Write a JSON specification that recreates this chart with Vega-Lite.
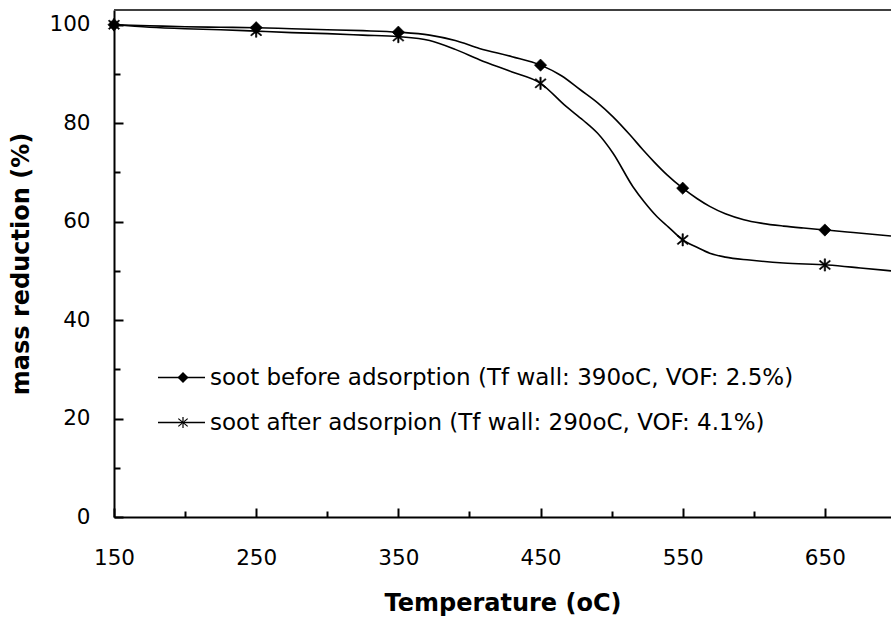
{
  "$schema": "https://vega.github.io/schema/vega-lite/v6.json",
  "width": 777,
  "height": 507,
  "autosize": {"type": "none"},
  "padding": {"left": 114, "top": 10, "right": 0, "bottom": 104},
  "background": "white",
  "config": {"view": {"stroke": null}, "font": "DejaVu Sans"},
  "datasets": {
    "curves": [
      {"series": "soot before adsorption (Tf wall: 390oC, VOF: 2.5%)", "T": 150, "m": 100.0},
      {"series": "soot before adsorption (Tf wall: 390oC, VOF: 2.5%)", "T": 175, "m": 99.8},
      {"series": "soot before adsorption (Tf wall: 390oC, VOF: 2.5%)", "T": 200, "m": 99.6},
      {"series": "soot before adsorption (Tf wall: 390oC, VOF: 2.5%)", "T": 225, "m": 99.5},
      {"series": "soot before adsorption (Tf wall: 390oC, VOF: 2.5%)", "T": 250, "m": 99.4},
      {"series": "soot before adsorption (Tf wall: 390oC, VOF: 2.5%)", "T": 275, "m": 99.2},
      {"series": "soot before adsorption (Tf wall: 390oC, VOF: 2.5%)", "T": 300, "m": 99.0},
      {"series": "soot before adsorption (Tf wall: 390oC, VOF: 2.5%)", "T": 325, "m": 98.8},
      {"series": "soot before adsorption (Tf wall: 390oC, VOF: 2.5%)", "T": 350, "m": 98.5},
      {"series": "soot before adsorption (Tf wall: 390oC, VOF: 2.5%)", "T": 372, "m": 97.9},
      {"series": "soot before adsorption (Tf wall: 390oC, VOF: 2.5%)", "T": 390, "m": 96.8},
      {"series": "soot before adsorption (Tf wall: 390oC, VOF: 2.5%)", "T": 407, "m": 95.2},
      {"series": "soot before adsorption (Tf wall: 390oC, VOF: 2.5%)", "T": 430, "m": 93.5},
      {"series": "soot before adsorption (Tf wall: 390oC, VOF: 2.5%)", "T": 450, "m": 91.8},
      {"series": "soot before adsorption (Tf wall: 390oC, VOF: 2.5%)", "T": 465, "m": 89.6},
      {"series": "soot before adsorption (Tf wall: 390oC, VOF: 2.5%)", "T": 478, "m": 86.8},
      {"series": "soot before adsorption (Tf wall: 390oC, VOF: 2.5%)", "T": 490, "m": 84.2},
      {"series": "soot before adsorption (Tf wall: 390oC, VOF: 2.5%)", "T": 501, "m": 81.3},
      {"series": "soot before adsorption (Tf wall: 390oC, VOF: 2.5%)", "T": 513, "m": 77.6},
      {"series": "soot before adsorption (Tf wall: 390oC, VOF: 2.5%)", "T": 522, "m": 74.6},
      {"series": "soot before adsorption (Tf wall: 390oC, VOF: 2.5%)", "T": 530, "m": 72.1},
      {"series": "soot before adsorption (Tf wall: 390oC, VOF: 2.5%)", "T": 539, "m": 69.5},
      {"series": "soot before adsorption (Tf wall: 390oC, VOF: 2.5%)", "T": 550, "m": 66.8},
      {"series": "soot before adsorption (Tf wall: 390oC, VOF: 2.5%)", "T": 560, "m": 64.7},
      {"series": "soot before adsorption (Tf wall: 390oC, VOF: 2.5%)", "T": 569, "m": 63.1},
      {"series": "soot before adsorption (Tf wall: 390oC, VOF: 2.5%)", "T": 580, "m": 61.6},
      {"series": "soot before adsorption (Tf wall: 390oC, VOF: 2.5%)", "T": 593, "m": 60.4},
      {"series": "soot before adsorption (Tf wall: 390oC, VOF: 2.5%)", "T": 605, "m": 59.7},
      {"series": "soot before adsorption (Tf wall: 390oC, VOF: 2.5%)", "T": 621, "m": 59.1},
      {"series": "soot before adsorption (Tf wall: 390oC, VOF: 2.5%)", "T": 635, "m": 58.7},
      {"series": "soot before adsorption (Tf wall: 390oC, VOF: 2.5%)", "T": 651, "m": 58.3},
      {"series": "soot before adsorption (Tf wall: 390oC, VOF: 2.5%)", "T": 670, "m": 57.8},
      {"series": "soot before adsorption (Tf wall: 390oC, VOF: 2.5%)", "T": 696.5, "m": 57.1},
      {"series": "soot after adsorpion (Tf wall: 290oC, VOF: 4.1%)", "T": 150, "m": 100.0},
      {"series": "soot after adsorpion (Tf wall: 290oC, VOF: 4.1%)", "T": 175, "m": 99.5},
      {"series": "soot after adsorpion (Tf wall: 290oC, VOF: 4.1%)", "T": 200, "m": 99.2},
      {"series": "soot after adsorpion (Tf wall: 290oC, VOF: 4.1%)", "T": 225, "m": 99.0},
      {"series": "soot after adsorpion (Tf wall: 290oC, VOF: 4.1%)", "T": 250, "m": 98.7},
      {"series": "soot after adsorpion (Tf wall: 290oC, VOF: 4.1%)", "T": 275, "m": 98.4},
      {"series": "soot after adsorpion (Tf wall: 290oC, VOF: 4.1%)", "T": 300, "m": 98.2},
      {"series": "soot after adsorpion (Tf wall: 290oC, VOF: 4.1%)", "T": 325, "m": 97.9},
      {"series": "soot after adsorpion (Tf wall: 290oC, VOF: 4.1%)", "T": 350, "m": 97.6},
      {"series": "soot after adsorpion (Tf wall: 290oC, VOF: 4.1%)", "T": 372, "m": 96.8},
      {"series": "soot after adsorpion (Tf wall: 290oC, VOF: 4.1%)", "T": 390, "m": 95.0},
      {"series": "soot after adsorpion (Tf wall: 290oC, VOF: 4.1%)", "T": 407, "m": 92.9},
      {"series": "soot after adsorpion (Tf wall: 290oC, VOF: 4.1%)", "T": 430, "m": 90.4},
      {"series": "soot after adsorpion (Tf wall: 290oC, VOF: 4.1%)", "T": 450, "m": 88.1},
      {"series": "soot after adsorpion (Tf wall: 290oC, VOF: 4.1%)", "T": 468, "m": 83.4},
      {"series": "soot after adsorpion (Tf wall: 290oC, VOF: 4.1%)", "T": 480, "m": 80.6},
      {"series": "soot after adsorpion (Tf wall: 290oC, VOF: 4.1%)", "T": 490, "m": 78.0},
      {"series": "soot after adsorpion (Tf wall: 290oC, VOF: 4.1%)", "T": 501, "m": 73.9},
      {"series": "soot after adsorpion (Tf wall: 290oC, VOF: 4.1%)", "T": 515, "m": 67.1},
      {"series": "soot after adsorpion (Tf wall: 290oC, VOF: 4.1%)", "T": 523, "m": 64.0},
      {"series": "soot after adsorpion (Tf wall: 290oC, VOF: 4.1%)", "T": 532, "m": 61.0},
      {"series": "soot after adsorpion (Tf wall: 290oC, VOF: 4.1%)", "T": 540, "m": 58.9},
      {"series": "soot after adsorpion (Tf wall: 290oC, VOF: 4.1%)", "T": 550, "m": 56.3},
      {"series": "soot after adsorpion (Tf wall: 290oC, VOF: 4.1%)", "T": 560, "m": 54.8},
      {"series": "soot after adsorpion (Tf wall: 290oC, VOF: 4.1%)", "T": 569, "m": 53.6},
      {"series": "soot after adsorpion (Tf wall: 290oC, VOF: 4.1%)", "T": 580, "m": 52.8},
      {"series": "soot after adsorpion (Tf wall: 290oC, VOF: 4.1%)", "T": 597, "m": 52.2},
      {"series": "soot after adsorpion (Tf wall: 290oC, VOF: 4.1%)", "T": 621, "m": 51.6},
      {"series": "soot after adsorpion (Tf wall: 290oC, VOF: 4.1%)", "T": 652, "m": 51.2},
      {"series": "soot after adsorpion (Tf wall: 290oC, VOF: 4.1%)", "T": 675, "m": 50.6},
      {"series": "soot after adsorpion (Tf wall: 290oC, VOF: 4.1%)", "T": 696.5, "m": 50.0}
    ],
    "markers": [
      {"series": "soot before adsorption (Tf wall: 390oC, VOF: 2.5%)", "T": 150, "m": 100.0},
      {"series": "soot before adsorption (Tf wall: 390oC, VOF: 2.5%)", "T": 250, "m": 99.4},
      {"series": "soot before adsorption (Tf wall: 390oC, VOF: 2.5%)", "T": 350, "m": 98.5},
      {"series": "soot before adsorption (Tf wall: 390oC, VOF: 2.5%)", "T": 450, "m": 91.8},
      {"series": "soot before adsorption (Tf wall: 390oC, VOF: 2.5%)", "T": 550, "m": 66.8},
      {"series": "soot before adsorption (Tf wall: 390oC, VOF: 2.5%)", "T": 650, "m": 58.3},
      {"series": "soot after adsorpion (Tf wall: 290oC, VOF: 4.1%)", "T": 150, "m": 100.0},
      {"series": "soot after adsorpion (Tf wall: 290oC, VOF: 4.1%)", "T": 250, "m": 98.7},
      {"series": "soot after adsorpion (Tf wall: 290oC, VOF: 4.1%)", "T": 350, "m": 97.6},
      {"series": "soot after adsorpion (Tf wall: 290oC, VOF: 4.1%)", "T": 450, "m": 88.1},
      {"series": "soot after adsorpion (Tf wall: 290oC, VOF: 4.1%)", "T": 550, "m": 56.3},
      {"series": "soot after adsorpion (Tf wall: 290oC, VOF: 4.1%)", "T": 650, "m": 51.2}
    ],
    "frame": [{"top": 103}]
  },
  "layer": [
    {
      "data": {"name": "frame"},
      "mark": {"type": "rule", "color": "#404040", "strokeWidth": 2},
      "encoding": {
        "y": {
          "field": "top", "type": "quantitative",
          "scale": {"domain": [0, 103], "nice": false, "zero": true},
          "axis": {
            "orient": "left",
            "values": [0, 10, 20, 30, 40, 50, 60, 70, 80, 90, 100],
            "labelExpr": "datum.value % 20 === 0 ? datum.label : ''",
            "labelOverlap": false, "grid": false,
            "domainColor": "black", "domainWidth": 2,
            "ticks": true, "tickSize": -9, "tickColor": "black", "tickWidth": 2,
            "tickDash": {"condition": {"test": "datum.value % 20 !== 0", "value": [6, 20]}, "value": [20, 0]},
            "labelPadding": 33, "labelFontSize": 21.5, "labelColor": "black", "labelFont": "DejaVu Sans",
            "title": "mass reduction (%)", "titleFontSize": 24, "titleFontWeight": "bold", "titleColor": "black",
            "titleFont": "DejaVu Sans", "titlePadding": 15
          }
        }
      }
    },
    {
      "data": {"name": "curves"},
      "mark": {"type": "line", "strokeWidth": 1.6, "interpolate": "monotone", "clip": true},
      "encoding": {
        "x": {
          "field": "T", "type": "quantitative",
          "scale": {"domain": [150, 696.5], "nice": false, "zero": false},
          "axis": {
            "orient": "bottom",
            "values": [150, 200, 250, 300, 350, 400, 450, 500, 550, 600, 650],
            "labelExpr": "(datum.value - 150) % 100 === 0 ? datum.label : ''",
            "labelFlush": false, "labelOverlap": false, "grid": false,
            "domainColor": "black", "domainWidth": 2,
            "ticks": true, "tickSize": -9, "tickColor": "black", "tickWidth": 2,
            "tickDash": {"condition": {"test": "(datum.value - 150) % 100 !== 0", "value": [6, 20]}, "value": [20, 0]},
            "labelPadding": 39, "labelFontSize": 21.5, "labelColor": "black", "labelFont": "DejaVu Sans",
            "title": "Temperature (oC)", "titleFontSize": 24, "titleFontWeight": "bold", "titleColor": "black",
            "titleFont": "DejaVu Sans", "titlePadding": 23
          }
        },
        "y": {
          "field": "m", "type": "quantitative",
          "scale": {"domain": [0, 103], "nice": false, "zero": true},
          "axis": {
            "orient": "left",
            "values": [0, 10, 20, 30, 40, 50, 60, 70, 80, 90, 100],
            "labelExpr": "datum.value % 20 === 0 ? datum.label : ''",
            "labelOverlap": false, "grid": false,
            "domainColor": "black", "domainWidth": 2,
            "ticks": true, "tickSize": -9, "tickColor": "black", "tickWidth": 2,
            "tickDash": {"condition": {"test": "datum.value % 20 !== 0", "value": [6, 20]}, "value": [20, 0]},
            "labelPadding": 33, "labelFontSize": 21.5, "labelColor": "black", "labelFont": "DejaVu Sans",
            "title": "mass reduction (%)", "titleFontSize": 24, "titleFontWeight": "bold", "titleColor": "black",
            "titleFont": "DejaVu Sans", "titlePadding": 15
          }
        },
        "color": {
          "field": "series", "type": "nominal", "sort": null,
          "scale": {"range": ["black", "black"]},
          "legend": {
            "orient": "none", "legendX": 56, "legendY": 356, "title": null, "padding": 0,
            "direction": "vertical",
            "symbolType": "M-2.35,0H2.35", "symbolSize": 400, "symbolStrokeWidth": 1.5,
            "symbolStrokeColor": "black",
            "labelFontSize": 23, "labelColor": "black", "labelFont": "DejaVu Sans", "labelOffset": 17,
            "rowPadding": 21, "labelLimit": 0
          }
        }
      }
    },
    {
      "data": {"name": "markers"},
      "mark": {"type": "point", "filled": false, "color": "black", "fill": "black", "stroke": "black", "strokeWidth": 0.6, "opacity": 1, "size": 150},
      "encoding": {
        "x": {
          "field": "T", "type": "quantitative",
          "axis": {
            "orient": "bottom",
            "values": [150, 200, 250, 300, 350, 400, 450, 500, 550, 600, 650],
            "labelExpr": "(datum.value - 150) % 100 === 0 ? datum.label : ''",
            "labelFlush": false, "labelOverlap": false, "grid": false,
            "domainColor": "black", "domainWidth": 2,
            "ticks": true, "tickSize": -9, "tickColor": "black", "tickWidth": 2,
            "tickDash": {"condition": {"test": "(datum.value - 150) % 100 !== 0", "value": [6, 20]}, "value": [20, 0]},
            "labelPadding": 39, "labelFontSize": 21.5, "labelColor": "black", "labelFont": "DejaVu Sans",
            "title": "Temperature (oC)", "titleFontSize": 24, "titleFontWeight": "bold", "titleColor": "black",
            "titleFont": "DejaVu Sans", "titlePadding": 23
          }
        },
        "y": {
          "field": "m", "type": "quantitative",
          "axis": {
            "orient": "left",
            "values": [0, 10, 20, 30, 40, 50, 60, 70, 80, 90, 100],
            "labelExpr": "datum.value % 20 === 0 ? datum.label : ''",
            "labelOverlap": false, "grid": false,
            "domainColor": "black", "domainWidth": 2,
            "ticks": true, "tickSize": -9, "tickColor": "black", "tickWidth": 2,
            "tickDash": {"condition": {"test": "datum.value % 20 !== 0", "value": [6, 20]}, "value": [20, 0]},
            "labelPadding": 33, "labelFontSize": 21.5, "labelColor": "black", "labelFont": "DejaVu Sans",
            "title": "mass reduction (%)", "titleFontSize": 24, "titleFontWeight": "bold", "titleColor": "black",
            "titleFont": "DejaVu Sans", "titlePadding": 15
          }
        },
        "shape": {
          "field": "series", "type": "nominal",
          "scale": {
            "domain": ["soot before adsorption (Tf wall: 390oC, VOF: 2.5%)", "soot after adsorpion (Tf wall: 290oC, VOF: 4.1%)"],
            "range": ["diamond", "M-0.11,-1L0.11,-1L0.11,1L-0.11,1ZM-0.92,-0.62L-0.78,-0.78L0.92,0.62L0.78,0.78ZM-0.92,0.62L-0.78,0.78L0.92,-0.62L0.78,-0.78Z"]
          },
          "legend": {
            "orient": "none", "legendX": 57.5, "legendY": 356, "title": null, "padding": 0,
            "direction": "vertical",
            "symbolSize": 121, "symbolStrokeWidth": 1, "symbolStrokeColor": "black", "symbolFillColor": "black",
            "symbolOpacity": 1,
            "labelExpr": "''",
            "labelFontSize": 23, "labelOpacity": 0, "labelFont": "DejaVu Sans", "labelOffset": 17,
            "rowPadding": 21, "labelLimit": 0
          }
        }
      }
    }
  ]
}
